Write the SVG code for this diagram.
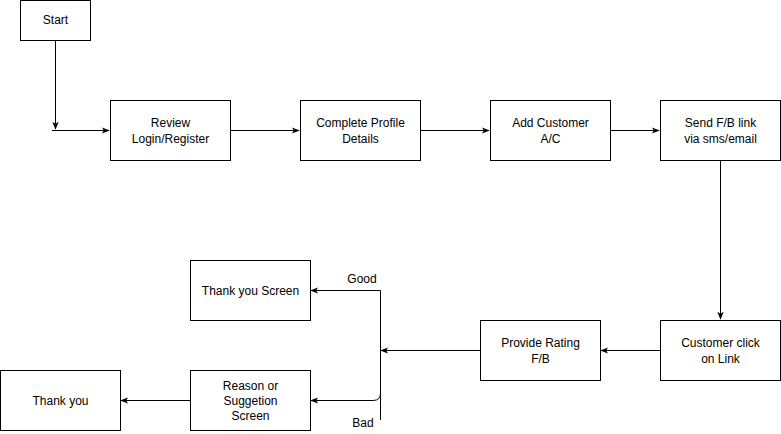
<svg xmlns="http://www.w3.org/2000/svg" width="781" height="434" viewBox="0 0 781 434">
<style>
.box{fill:#fff;stroke:#000;stroke-width:1}
.t{font-family:"Liberation Sans",Arial,sans-serif;font-size:12px;fill:#000;text-anchor:middle}
.c{fill:none;stroke:#000;stroke-width:1}
</style>
<defs>
<marker id="a" viewBox="0 0 10 10" refX="9" refY="5" markerWidth="8" markerHeight="8" markerUnits="userSpaceOnUse" orient="auto">
<path d="M0,1 L10,5 L0,9 L2.5,5 Z" fill="#000"/>
</marker>
</defs>
<rect width="781" height="434" fill="#fff"/>
<g id="connectors">
<path class="c" d="M55.5,40.5 V129" marker-end="url(#a)"/>
<path class="c" d="M52,130.5 H109" marker-end="url(#a)"/>
<path class="c" d="M230.5,130.5 H299" marker-end="url(#a)"/>
<path class="c" d="M420.5,130.5 H489" marker-end="url(#a)"/>
<path class="c" d="M610.5,130.5 H659" marker-end="url(#a)"/>
<path class="c" d="M720.5,160.5 V319" marker-end="url(#a)"/>
<path class="c" d="M660.5,350.5 H601" marker-end="url(#a)"/>
<path class="c" d="M480.5,350.5 H381" marker-end="url(#a)"/>
<path class="c" d="M380.5,290.5 V420"/>
<path class="c" d="M380.5,290.5 H311" marker-end="url(#a)"/>
<path class="c" d="M380.5,393 Q380.5,400.5 373,400.5 H311" marker-end="url(#a)"/>
<path class="c" d="M190.5,400.5 H121" marker-end="url(#a)"/>
<text class="t" x="362" y="283">Good</text>
<text class="t" x="363" y="427">Bad</text>
</g>
<g id="start"><rect class="box" x="20.5" y="0.5" width="70" height="40"/><text class="t" x="55.5" y="24">Start</text></g>
<g id="review"><rect class="box" x="110.5" y="100.5" width="120" height="60"/><text class="t" x="170.5" y="127">Review</text><text class="t" x="170.5" y="143">Login/Register</text></g>
<g id="profile"><rect class="box" x="300.5" y="100.5" width="120" height="60"/><text class="t" x="360.5" y="127">Complete Profile</text><text class="t" x="360.5" y="143">Details</text></g>
<g id="addcustomer"><rect class="box" x="490.5" y="100.5" width="120" height="60"/><text class="t" x="550.5" y="127">Add Customer</text><text class="t" x="550.5" y="143">A/C</text></g>
<g id="sendfb"><rect class="box" x="660.5" y="100.5" width="120" height="60"/><text class="t" x="720.5" y="127">Send F/B link</text><text class="t" x="720.5" y="143">via sms/email</text></g>
<g id="customerclick"><rect class="box" x="660.5" y="320.5" width="120" height="60"/><text class="t" x="720.5" y="347">Customer click</text><text class="t" x="720.5" y="363">on Link</text></g>
<g id="rating"><rect class="box" x="480.5" y="320.5" width="120" height="60"/><text class="t" x="540.5" y="347">Provide Rating</text><text class="t" x="540.5" y="363">F/B</text></g>
<g id="thankyouscreen"><rect class="box" x="190.5" y="260.5" width="120" height="60"/><text class="t" x="250.5" y="295">Thank you Screen</text></g>
<g id="reason"><rect class="box" x="190.5" y="370.5" width="120" height="60"/><text class="t" x="250.5" y="390">Reason or</text><text class="t" x="250.5" y="405">Suggetion</text><text class="t" x="250.5" y="420">Screen</text></g>
<g id="thankyou"><rect class="box" x="0.5" y="370.5" width="120" height="60"/><text class="t" x="60.5" y="405">Thank you</text></g>
</svg>
